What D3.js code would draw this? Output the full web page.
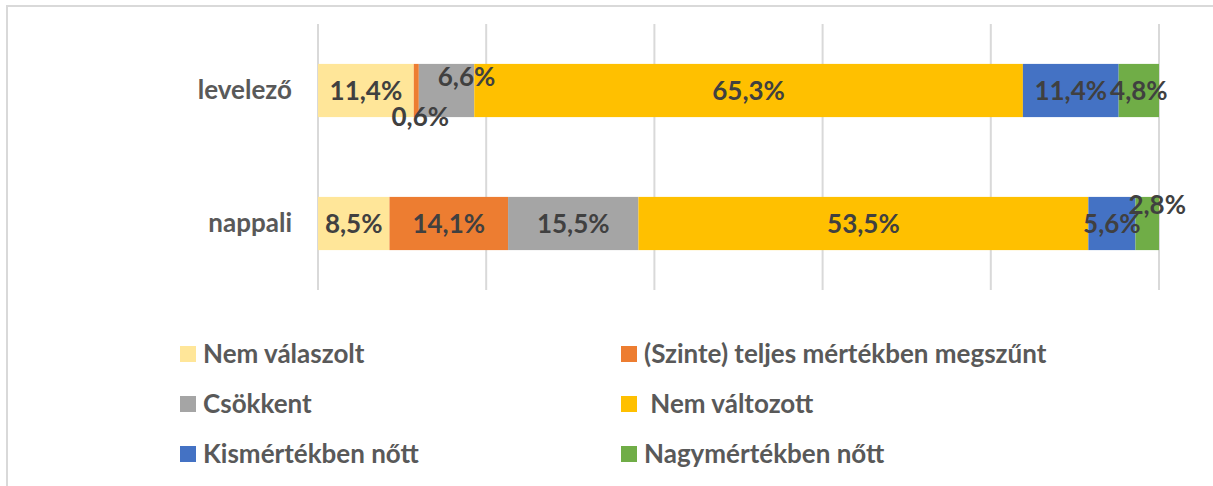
<!DOCTYPE html>
<html>
<head>
    <meta charset="utf-8">
    <title>Levelező / nappali - 100% stacked bar</title>
    <style>
        body { margin: 0; background: #fff; }
        svg { display: block; }
        .cat text { font: bold 26px Lato, "Noto Sans", sans-serif; fill: #595959; }
        .lbl { font: bold 26px Lato, "Noto Sans", sans-serif; fill: #404040; }
        .legend text { font: bold 26px Lato, "Noto Sans", sans-serif; fill: #595959; }
    </style>
    <script src="https://d3js.org/d3.v7.min.js"></script>
</head>
<body>
<script>
  // categories top to bottom
  var categories = ["levelező", "nappali"];
  var seriesNames = ["Nem válaszolt", "(Szinte) teljes mértékben megszűnt", "Csökkent",
                     " Nem változott", "Kismértékben nőtt", "Nagymértékben nőtt"];
  var colors = ["#ffe699", "#ed7d31", "#a5a5a5", "#ffc000", "#4472c4", "#70ad47"];
  // values per series, [levelező, nappali]
  var nemValaszolt = [11.4, 8.5];
  var megszunt = [0.6, 14.1];
  var csokkent = [6.6, 15.5];
  var nemValtozott = [65.3, 53.5];
  var kisNott = [11.4, 5.6];
  var nagyNott = [4.8, 2.8];
  var values = [nemValaszolt, megszunt, csokkent, nemValtozott, kisNott, nagyNott];
  var ticks = [0, 0.2, 0.4, 0.6, 0.8, 1];

  // hand-moved labels (series index, category index) -> offset
  var labelNudge = {"1-0": [4, 26], "2-0": [20, -14], "5-1": [10, -19]};

  var W = 1213, H = 486;
  var svg = d3.select("body").append("svg").attr("width", W).attr("height", H);

  // chart border
  svg.append("rect")
     .attr("x", 7).attr("y", 6)
     .attr("width", W + 10).attr("height", H + 10)
     .attr("fill", "none").attr("stroke", "#d9d9d9").attr("stroke-width", 2);

  var x = d3.scaleLinear().domain([0, 1]).range([318, 1159]);
  var y = d3.scaleBand().domain(categories).range([24, 290]).paddingInner(0.6).paddingOuter(0.3);

  // gridlines
  svg.append("g").selectAll("line")
     .data(ticks).enter().append("line")
     .attr("x1", function (d) { return x(d); })
     .attr("x2", function (d) { return x(d); })
     .attr("y1", 24).attr("y2", 290)
     .attr("stroke", "#d9d9d9").attr("stroke-width", 2);

  // build percent-stacked table
  var table = categories.map(function (c, ci) {
    var row = {cat: c};
    var total = d3.sum(values, function (s) { return s[ci]; });
    values.forEach(function (s, si) { row["s" + si] = s[ci] / total; });
    return row;
  });
  var stack = d3.stack().keys(seriesNames.map(function (d, i) { return "s" + i; }));
  var stacked = stack(table);

  var groups = svg.append("g").selectAll("g")
     .data(stacked).enter().append("g")
     .attr("fill", function (d, i) { return colors[i]; });

  groups.selectAll("rect")
     .data(function (d) { return d; }).enter().append("rect")
     .attr("x", function (d) { return x(d[0]); })
     .attr("y", function (d) { return y(d.data.cat); })
     .attr("width", function (d) { return x(d[1]) - x(d[0]); })
     .attr("height", y.bandwidth());

  // data labels
  stacked.forEach(function (layer, si) {
    layer.forEach(function (d, ci) {
      var nud = labelNudge[si + "-" + ci] || [0, 0];
      svg.append("text")
         .attr("class", "lbl")
         .attr("x", (x(d[0]) + x(d[1])) / 2 + nud[0])
         .attr("y", y(d.data.cat) + y.bandwidth() / 2 + nud[1])
         .attr("dy", "0.35em")
         .attr("text-anchor", "middle")
         .text(values[si][ci].toFixed(1).replace(".", ",") + "%");
    });
  });

  // category axis
  var yAxis = svg.append("g").attr("class", "cat")
     .attr("transform", "translate(304,0)")
     .call(d3.axisLeft(y).tickSize(0).tickPadding(12));
  yAxis.select(".domain").remove();

  // legend
  var legend = svg.append("g").attr("class", "legend").selectAll("g")
     .data(seriesNames).enter().append("g")
     .attr("transform", function (d, i) {
       return "translate(" + (i % 2 === 0 ? 180 : 621) + "," + (354 + Math.floor(i / 2) * 50) + ")";
     });
  legend.append("rect")
     .attr("x", 0).attr("y", -8).attr("width", 16).attr("height", 16)
     .attr("fill", function (d, i) { return colors[i]; });
  legend.append("text")
     .attr("x", 23).attr("dy", "0.35em")
     .attr("xml:space", "preserve")
     .style("white-space", "pre")
     .text(function (d) { return d; });
</script>
</body>
</html>
